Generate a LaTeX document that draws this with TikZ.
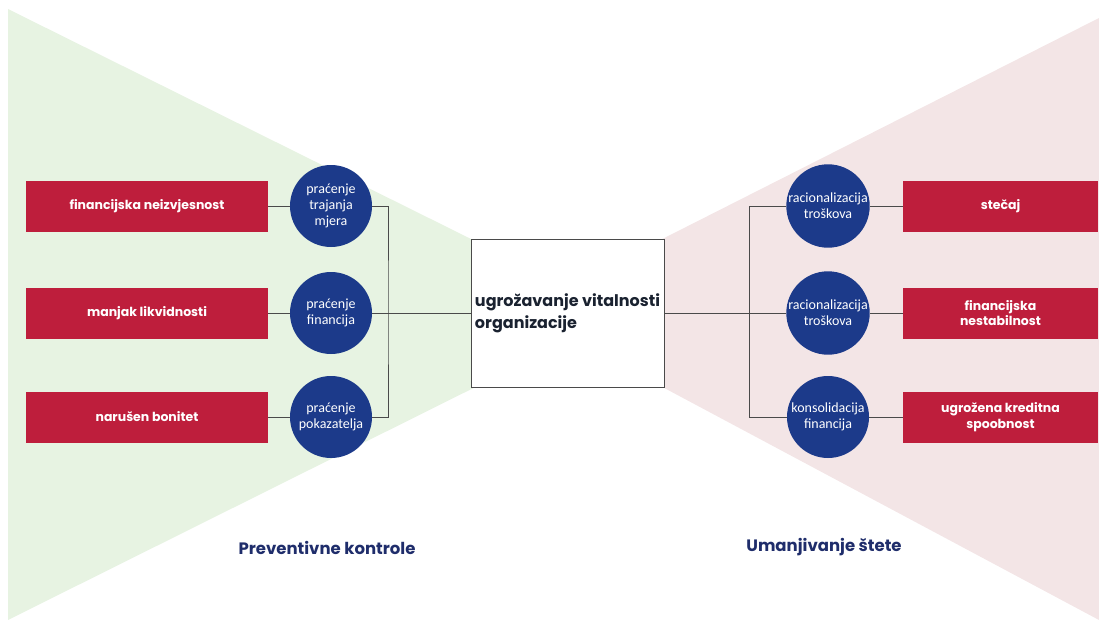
\documentclass[tikz,border=0pt]{standalone}
\usepackage{fontspec}
\setmainfont{Poppins}
\newfontfamily\circfont{Carlito}
\definecolor{redbox}{HTML}{BE1E3C}
\definecolor{bluecirc}{HTML}{1C3A8A}
\definecolor{labelblue}{HTML}{1F2D6B}
\definecolor{greenbg}{HTML}{E7F3E2}
\definecolor{pinkbg}{HTML}{F3E5E6}
\definecolor{maintext}{HTML}{1A2230}
\definecolor{conncol}{HTML}{4A4A4A}
\tikzset{
  redb/.style={fill=redbox, text=white, minimum height=51pt, inner sep=2pt, align=center,
    font=\fontsize{12.5}{15.5}\selectfont\bfseries},
  circ/.style={circle, fill=bluecirc, text=white, minimum size=82pt, inner sep=0pt, align=center,
    font=\circfont\fontsize{14}{16}\selectfont},
  mainbox/.style={draw=conncol, line width=0.6pt, fill=white, minimum width=193pt, minimum height=148pt,
    inner xsep=3pt, align=left, text=maintext, font=\fontsize{16}{22}\selectfont\bfseries},
  conn/.style={draw=conncol, line width=0.8pt},
  sidelabel/.style={text=labelblue, font=\fontsize{16.5}{19}\selectfont\bfseries}
}
\begin{document}
\begin{tikzpicture}[x=1pt,y=-1pt]
\useasboundingbox (0,0) rectangle (1099,623);
% background triangles
\fill[greenbg] (8,9) -- (8,620) -- (622,314) -- cycle;
\fill[pinkbg] (1099,18) -- (1099,620) -- (520,311) -- cycle;
% central box
\node[mainbox] (main) at (567.5,313) {ugrožavanje vitalnosti\\organizacije};
% left side
\node[redb, minimum width=242pt] (b1) at (147,206) {financijska neizvjesnost};
\node[redb, minimum width=242pt] (b2) at (147,313) {manjak likvidnosti};
\node[redb, minimum width=242pt] (b3) at (147,417) {narušen bonitet};
\node[circ] (c1) at (331,206) {praćenje\\trajanja\\mjera};
\node[circ] (c2) at (331,313) {praćenje\\financija};
\node[circ] (c3) at (331,417) {praćenje\\pokazatelja};
\coordinate (vl) at (388,313);
% right side
\node[redb, minimum width=195pt] (d1) at (1000.5,206) {stečaj};
\node[redb, minimum width=195pt] (d2) at (1000.5,313) {financijska\\nestabilnost};
\node[redb, minimum width=195pt] (d3) at (1000.5,417) {ugrožena kreditna\\spoobnost};
\node[circ] (e1) at (828,206) {racionalizacija\\troškova};
\node[circ] (e2) at (828,313) {racionalizacija\\troškova};
\node[circ] (e3) at (828,417) {konsolidacija\\financija};
\coordinate (vr) at (749,313);
% connectors left
\draw[conn] (b1) -- (c1);
\draw[conn] (b2) -- (c2);
\draw[conn] (b3) -- (c3);
\draw[conn] (c1.east) -| (vl) |- (c3.east);
\draw[conn] (c2.east) -- (main.west);
% connectors right
\draw[conn] (d1) -- (e1);
\draw[conn] (d2) -- (e2);
\draw[conn] (d3) -- (e3);
\draw[conn] (e1.west) -| (vr) |- (e3.west);
\draw[conn] (e2.west) -- (main.east);
% labels
\node[sidelabel] (lp) at (327,548) {Preventivne kontrole};
\node[sidelabel] (lu) at (824,547) {Umanjivanje štete};
\end{tikzpicture}
\end{document}
